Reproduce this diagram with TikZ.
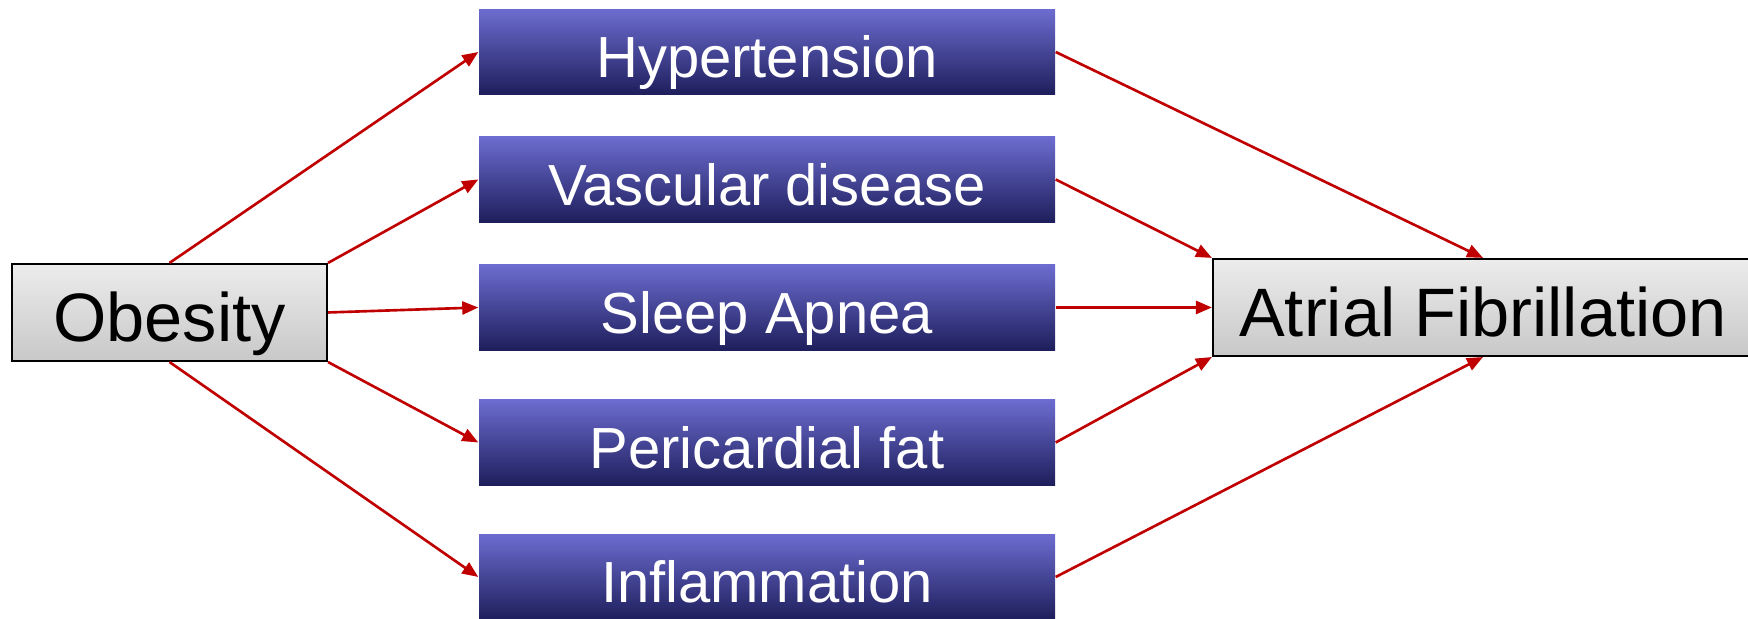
\documentclass[tikz,border=0pt]{standalone}
\usepackage{fontspec}
\setmainfont{Liberation Sans}
\definecolor{afred}{RGB}{192,0,0}
\definecolor{aftop}{RGB}{108,108,208}
\definecolor{afbottom}{RGB}{30,30,92}
\definecolor{afgraytop}{RGB}{236,236,236}
\definecolor{afgraybot}{RGB}{200,200,200}
\usetikzlibrary{arrows.meta,positioning}

\begin{document}
\begin{tikzpicture}[
  factorbox/.style={
    rectangle, inner sep=0pt,
    minimum width=5.76cm, minimum height=0.855cm,
    text height=14.6pt, text depth=0pt,
    top color=aftop, bottom color=afbottom,
    font=\fontsize{16.5}{18}\selectfont,
    text=white
  },
  endbox/.style={
    rectangle, inner sep=0pt,
    draw=black, line width=0.6pt,
    top color=afgraytop, bottom color=afgraybot,
    minimum height=0.97cm,
    text height=16.5pt, text depth=0pt,
    font=\fontsize{19.5}{22}\selectfont
  },
  conn/.style={-{Triangle[length=1.6mm,width=1.3mm]}, line width=0.75pt, draw=afred}
]
\useasboundingbox (0,0) rectangle (17.48,6.19);

\node[endbox, minimum width=3.15cm] (obesity) at (1.695,3.065) {Obesity};
\node[endbox, minimum width=5.40cm] (af) at (14.83,3.115) {Atrial Fibrillation};

\node[factorbox] (hyper) at (7.67,5.67)  {Hypertension};
\node[factorbox] (vasc)  at (7.67,4.395) {Vascular disease};
\node[factorbox] (sleep) at (7.67,3.115) {Sleep Apnea};
\node[factorbox] (peri)  at (7.67,1.765) {Pericardial fat};
\node[factorbox] (infl)  at (7.67,0.42)  {Inflammation};

\draw[conn] (obesity.north)      -- (hyper.west);
\draw[conn] (obesity.north east) -- (vasc.west);
\draw[conn] (obesity.east)       -- (sleep.west);
\draw[conn] (obesity.south east) -- (peri.west);
\draw[conn] (obesity.south)      -- (infl.west);

\draw[conn] (hyper.east) -- (af.north);
\draw[conn] (vasc.east)  -- (af.north west);
\draw[conn] (sleep.east) -- (af.west);
\draw[conn] (peri.east)  -- (af.south west);
\draw[conn] (infl.east)  -- (af.south);
\end{tikzpicture}
\end{document}
